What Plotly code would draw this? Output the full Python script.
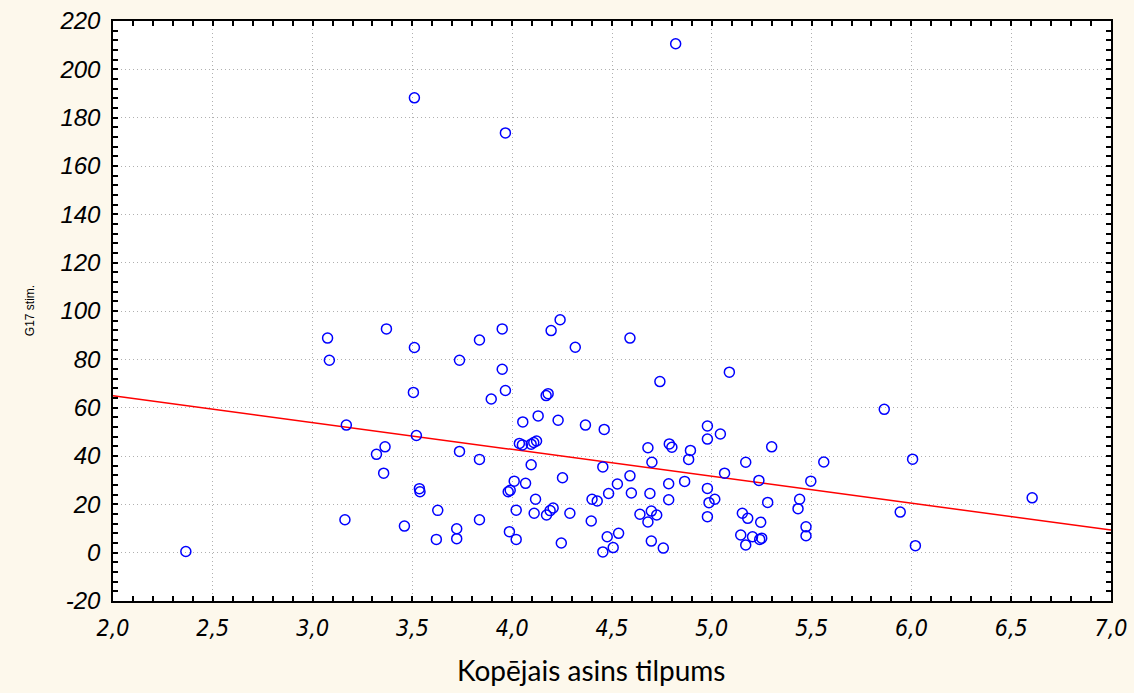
import plotly.graph_objects as go
import numpy as np

# Kopējais asins tilpums (x) vs G17 stim. (y)
x_vals = [
    2.365, 3.075, 3.084, 3.162, 3.169, 3.32, 3.356, 3.363, 3.37, 3.46,
    3.505, 3.51, 3.51, 3.52, 3.535, 3.538, 3.62, 3.627, 3.722, 3.722,
    3.736, 3.736, 3.836, 3.836, 3.836, 3.895, 3.95, 3.95, 3.966, 3.966,
    3.98, 3.99, 3.986, 4.01, 4.02, 4.02, 4.036, 4.051, 4.053, 4.067,
    4.095, 4.095, 4.108, 4.11, 4.117, 4.122, 4.13, 4.17, 4.18, 4.172,
    4.19, 4.195, 4.205, 4.23, 4.24, 4.246, 4.252, 4.289, 4.316, 4.367,
    4.396, 4.40, 4.426, 4.454, 4.454, 4.461, 4.476, 4.483, 4.506, 4.527,
    4.533, 4.59, 4.59, 4.597, 4.64, 4.68, 4.68, 4.69, 4.697, 4.697,
    4.70, 4.724, 4.74, 4.757, 4.784, 4.784, 4.787, 4.80, 4.819, 4.864,
    4.884, 4.893, 4.978, 4.978, 4.978, 4.978, 4.986, 5.015, 5.043, 5.064,
    5.088, 5.145, 5.153, 5.17, 5.17, 5.18, 5.204, 5.236, 5.24, 5.25,
    5.245, 5.28, 5.30, 5.432, 5.44, 5.472, 5.472, 5.496, 5.561, 5.864,
    5.944, 6.006, 6.02, 6.605,
]
y_vals = [
    0.5, 88.8, 79.6, 13.6, 52.8, 40.7, 32.9, 43.8, 92.6, 11.0,
    66.3, 84.9, 188.2, 48.5, 26.5, 25.2, 5.5, 17.5, 9.9, 5.8,
    79.6, 41.9, 88.0, 38.6, 13.6, 63.6, 92.6, 75.9, 67.1, 173.7,
    25.2, 25.8, 8.7, 29.6, 17.6, 5.5, 45.2, 44.6, 54.1, 28.7,
    44.9, 36.4, 45.6, 16.3, 22.1, 46.2, 56.6, 65.0, 65.8, 15.6,
    17.4, 91.9, 18.5, 54.8, 96.4, 4.0, 31.0, 16.3, 85.0, 52.8,
    13.1, 22.1, 21.4, 35.5, 0.3, 51.0, 6.6, 24.5, 2.1, 28.4,
    8.0, 88.8, 31.8, 24.7, 15.9, 43.4, 12.7, 24.5, 17.2, 4.8,
    37.4, 15.6, 70.8, 1.9, 28.5, 21.9, 45.0, 43.6, 210.6, 29.5,
    38.6, 42.3, 52.4, 47.0, 26.6, 14.9, 20.7, 22.1, 49.1, 32.9,
    74.7, 7.3, 16.3, 37.4, 3.2, 14.2, 6.6, 29.9, 5.5, 6.0,
    12.6, 20.8, 43.8, 18.2, 22.1, 10.7, 7.0, 29.6, 37.5, 59.3,
    16.8, 38.7, 2.9, 22.7,
]

# Regression line
fit_intercept = 87.2
fit_slope = -11.12
fit_x = [2.0, 7.0]

x_ticks = [2.0, 2.5, 3.0, 3.5, 4.0, 4.5, 5.0, 5.5, 6.0, 6.5, 7.0]
x_ticktext = ["2,0", "2,5", "3,0", "3,5", "4,0", "4,5", "5,0", "5,5", "6,0", "6,5", "7,0"]
y_ticks = [-20, 0, 20, 40, 60, 80, 100, 120, 140, 160, 180, 200, 220]
y_ticktext = ["-20", "0", "20", "40", "60", "80", "100", "120", "140", "160", "180", "200", "220"]

fit_y = [fit_intercept + fit_slope * v for v in fit_x]

fig = go.Figure()
fig.add_trace(go.Scatter(
    x=fit_x, y=fit_y, mode="lines",
    line=dict(color="#FF0000", width=1.5),
    hoverinfo="skip", showlegend=False,
))
fig.add_trace(go.Scatter(
    x=x_vals, y=y_vals, mode="markers",
    marker=dict(symbol="circle-open", size=10, color="#0000FF",
                line=dict(color="#0000FF", width=1.5)),
    showlegend=False,
))

axis_common = dict(
    showline=True, linecolor="black", linewidth=1.5, mirror="allticks",
    ticks="inside", ticklen=5, tickwidth=1.5, tickcolor="black",
    showgrid=True, gridcolor="#B0B0B0", griddash="1px,3px", gridwidth=1,
    zeroline=False, automargin=False,
)

fig.update_layout(
    width=1134, height=693,
    paper_bgcolor="#FDF8EC", plot_bgcolor="white",
    margin=dict(l=113, r=23, t=21, b=92),
    xaxis=dict(
        range=[2.0, 7.0], tickvals=x_ticks, ticktext=x_ticktext,
        tickfont=dict(family="Liberation Sans Narrow, Arial Narrow, DejaVu Sans Condensed, sans-serif",
                      size=23, color="#000000", style="italic"),
        ticklabelstandoff=6,
        minor=dict(dtick=0.1, ticks="inside", ticklen=5, tickwidth=1.5,
                   tickcolor="black", showgrid=False),
        **axis_common,
    ),
    yaxis=dict(
        range=[-20, 220], tickvals=y_ticks, ticktext=y_ticktext,
        tickfont=dict(family="Liberation Sans, Arial, sans-serif",
                      size=24, color="#000000", style="italic"),
        ticklabelstandoff=6,
        minor=dict(dtick=4, ticks="inside", ticklen=5, tickwidth=1.5,
                   tickcolor="black", showgrid=False),
        **axis_common,
    ),
    annotations=[
        dict(
            text="G17 stim.", xref="paper", yref="paper",
            x=-0.083, y=0.5, xanchor="center", yanchor="middle",
            textangle=-90, showarrow=False,
            font=dict(family="Liberation Sans, Arial, sans-serif", size=12,
                      color="#000000"),
        ),
        dict(
            text="Kopējais asins tilpums", xref="paper", yref="paper",
            x=0.4794, y=-0.119, xanchor="center", yanchor="middle",
            showarrow=False,
            font=dict(family="Lato, Open Sans, sans-serif", size=28,
                      color="#000000"),
        ),
    ],
)

fig.write_html("out.html")
